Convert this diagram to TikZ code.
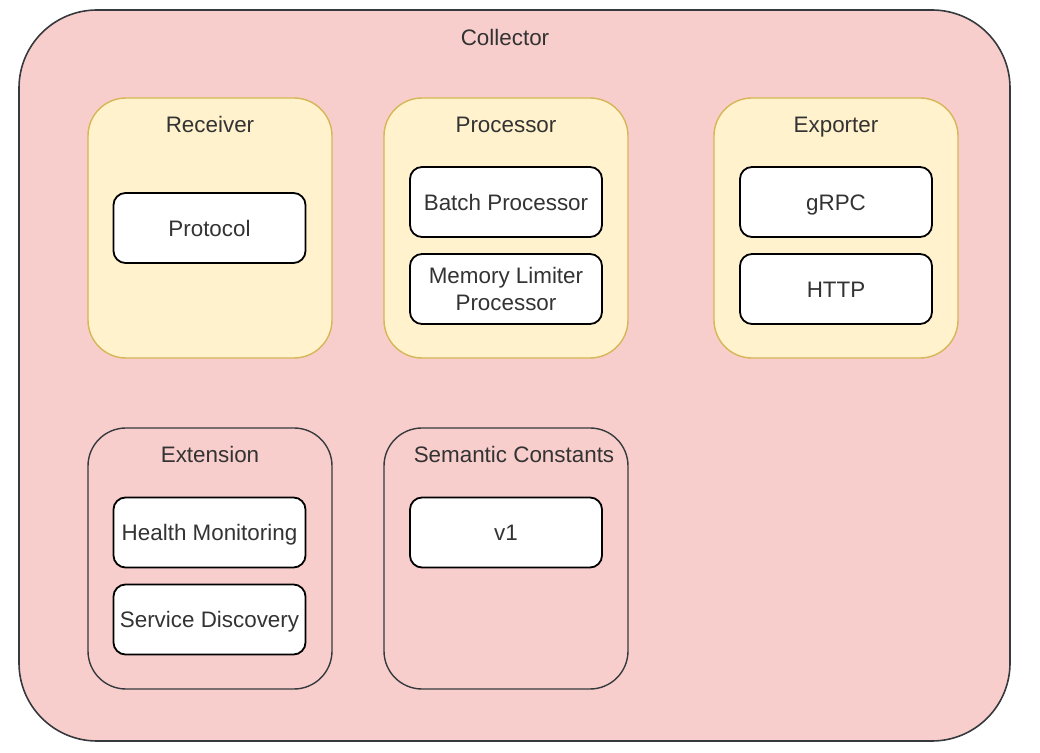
\documentclass[tikz,border=0pt]{standalone}
\usepackage{fontspec}
\setmainfont{Liberation Sans}
\definecolor{collfill}{HTML}{F8CECC}
\definecolor{collline}{HTML}{36393D}
\definecolor{groupfill}{HTML}{FFF2CC}
\definecolor{groupline}{HTML}{D6B656}
\definecolor{labeltext}{HTML}{333333}
\tikzset{
  labelfont/.style={font=\fontsize{11.2}{13.5}\selectfont, text=labeltext},
  oneline/.style={text height=8.1pt, text depth=0pt},
  collector/.style={draw=collline, fill=collfill, line width=0.8pt, rounded corners=39pt, minimum width=495.5pt, minimum height=365.5pt, inner sep=0pt},
  group/.style={draw=groupline, fill=groupfill, line width=0.7pt, rounded corners=19pt, minimum width=122pt, minimum height=130pt, inner sep=0pt},
  plaingroup/.style={draw=collline, fill=collfill, line width=0.7pt, rounded corners=19pt, minimum width=122pt, minimum height=130.5pt, inner sep=0pt},
  twoline/.style={draw=black, fill=white, line width=0.9pt, rounded corners=6pt, minimum width=96pt, minimum height=35pt, inner sep=0pt, align=center, labelfont},
  item/.style={twoline, oneline},
  title/.style={inner sep=0pt, labelfont, oneline}
}
\begin{document}
\begin{tikzpicture}[x=0.5pt, y=-0.5pt]
  %%%%% START %%%%%

  \useasboundingbox (0, 0) rectangle (1040, 753);

  \node[collector] (coll) at (514.5, 375.5) {};
  \node[title] (colltitle) at (505, 37) {Collector};

  \node[group] (receiver) at (210, 228) {};
  \node[title] (receivertitle) at (210, 124) {Receiver};
  \node[item] (protocol) at (209.5, 228) {Protocol};

  \node[group] (processor) at (506, 228) {};
  \node[title] (processortitle) at (506, 124) {Processor};
  \node[item] (batch) at (506, 202) {Batch Processor};
  \node[twoline] (memlimit) at (506, 289) {Memory Limiter\\Processor};

  \node[group] (exporter) at (836, 228) {};
  \node[title] (exportertitle) at (836, 124) {Exporter};
  \node[item] (grpc) at (836, 202) {gRPC};
  \node[item] (http) at (836, 289) {HTTP};

  \node[plaingroup] (extension) at (210, 558.5) {};
  \node[title] (extensiontitle) at (210, 454) {Extension};
  \node[item] (health) at (209.5, 532.5) {Health Monitoring};
  \node[item] (discovery) at (209.5, 619.5) {Service Discovery};

  \node[plaingroup] (semconst) at (506, 558.5) {};
  \node[title] (semconsttitle) at (514, 454) {Semantic Constants};
  \node[item] (vone) at (506, 532.5) {v1};

  %%%%% END %%%%%
\end{tikzpicture}
\end{document}
